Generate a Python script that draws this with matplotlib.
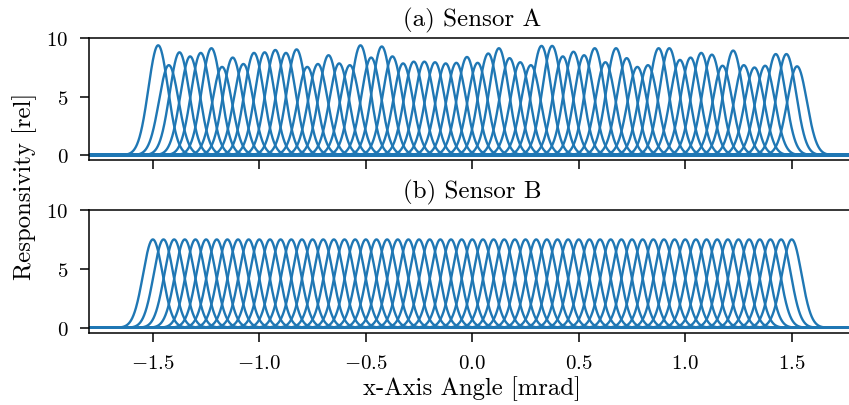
import numpy as np
import matplotlib
matplotlib.use('Agg')
import matplotlib.pyplot as plt

plt.rcParams['font.family'] = 'serif'
plt.rcParams['font.serif'] = ['cmr10']
plt.rcParams['mathtext.fontset'] = 'cm'
plt.rcParams['axes.formatter.use_mathtext'] = True
plt.rcParams['font.size'] = 15

# peak centres [mrad]
centers_b = np.linspace(-1.5, 1.5, 61)
centers_a = np.linspace(-1.475, 1.525, 61)

# peak heights [rel]
peaks_a = [9.4, 7.7, 8.8, 8.45, 8.75, 9.15, 7.55, 8.35, 7.8, 8.75,
           8.8, 9.0, 8.75, 9.05, 7.55, 7.8, 8.55, 7.85, 7.7, 9.4,
           8.35, 9.3, 8.45, 7.85, 8.0, 8.0, 7.95, 7.85, 7.9, 8.4,
           7.9, 8.7, 9.15, 8.3, 7.95, 7.7, 9.35, 9.35, 8.45, 8.85,
           8.55, 9.15, 7.95, 9.15, 8.3, 7.55, 7.7, 9.15, 9.15, 8.15,
           8.35, 8.75, 8.6, 7.65, 8.95, 7.7, 7.5, 7.65, 8.65, 8.65,
           7.6]
peaks_b = [7.5] * 61

sigma = 0.046
x = np.linspace(-1.8, 1.8, 3000)

fig = plt.figure(figsize=(8.49, 4.06), dpi=100)
ax_a = fig.add_axes([0.1048, 0.6027, 0.9030, 0.3005])
ax_b = fig.add_axes([0.1048, 0.1773, 0.9030, 0.3030], sharex=ax_a)

for ax, cs, amps, title in [(ax_a, centers_a, peaks_a, '(a) Sensor A'),
                            (ax_b, centers_b, peaks_b, '(b) Sensor B')]:
    for c, a in zip(cs, amps):
        ax.plot(x, a * np.exp(-0.5 * ((x - c) / sigma) ** 2),
                color='tab:blue', lw=1.7)
    ax.set_ylim(-0.45, 10)
    ax.set_yticks([0, 5, 10])
    ax.set_xlim(-1.8, 1.8)
    ax.spines['right'].set_visible(False)
    for s in ax.spines.values():
        s.set_linewidth(1.1)
    ax.tick_params(length=6.5, width=1.1, direction='out', pad=8.5)
    ax.set_title(title, fontsize=18, pad=9)

ax_b.set_xticks([-1.5, -1.0, -0.5, 0.0, 0.5, 1.0, 1.5])
plt.setp(ax_a.get_xticklabels(), visible=False)
fig.text(0.556, 0.043, 'x-Axis Angle [mrad]', ha='center', va='center',
         fontsize=17.8)
fig.text(0.0295, 0.541, 'Responsivity [rel]', rotation=90,
         ha='center', va='center', fontsize=17.8)

fig.savefig('out.png', dpi=100)
